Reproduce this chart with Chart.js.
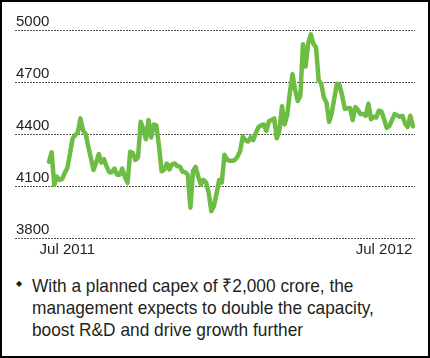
<!DOCTYPE html>
<html><head><meta charset="utf-8">
<script src="https://cdn.jsdelivr.net/npm/chart.js@4"></script>
<style>
html,body{margin:0;padding:0;background:#fff;}
#wrap{position:relative;width:430px;height:358px;overflow:hidden;background:#fff;}
#frame{position:absolute;left:0;top:0;width:430px;height:358px;box-sizing:border-box;border:2px solid #000;pointer-events:none;}
#cv{position:absolute;left:0;top:0;width:430px;height:265px;}
#note{position:absolute;left:32px;top:275px;font-family:'Liberation Sans',Arial,sans-serif;font-size:19px;line-height:22px;color:#231f20;transform:scaleX(0.91);transform-origin:0 0;white-space:nowrap;}
#bullet{position:absolute;left:16px;top:278px;font-family:'DejaVu Sans',sans-serif;font-size:8px;line-height:12px;color:#231f20;}
</style></head>
<body>
<div id="wrap">
<canvas id="cv" width="430" height="265"></canvas>
<div id="bullet">◆</div>
<div id="note">With a planned capex of ₹2,000 crore, the<br>management expects to double the capacity,<br>boost R&amp;D and drive growth further</div>
<div id="frame"></div>
</div>
<script>
// Share price, roughly every 3 days from mid-June 2011 to early Aug 2012
const values = [
4240,4295,4106,4154,4135,4140,4175,4205,4285,4375,
4394,4410,4490,4420,4400,4327,4260,4192,4235,4285,
4235,4255,4212,4180,4180,4200,4165,4165,4200,4150,
4118,4298,4290,4250,4265,4470,4430,4370,4480,4380,
4455,4450,4330,4185,4195,4230,4195,4225,4230,4215,
4212,4182,4180,4165,3975,4185,4210,4154,4110,4135,
4120,4060,3955,3985,4058,4135,4120,4280,4252,4245,
4245,4250,4270,4300,4385,4365,4356,4380,4365,4405,
4440,4450,4455,4418,4473,4481,4490,4375,4420,4560,
4455,4510,4640,4745,4655,4590,4620,4918,4790,4923,
4975,4920,4900,4710,4690,4610,4580,4470,4520,4610,
4690,4680,4620,4545,4548,4550,4480,4555,4540,4515,
4515,4505,4575,4485,4500,4495,4535,4530,4485,4435,
4445,4480,4515,4508,4500,4505,4460,4440,4505,4445
];
const yTicks = [3800, 4100, 4400, 4700, 5000];
const tickPositions = [7, 128];
const tickLabels = ['Jul 2011', 'Jul 2012'];

const tickFont = {family: "'Liberation Sans Narrow','Liberation Sans',Arial,sans-serif", size: 15};
const textColor = '#231f20';

new Chart(document.getElementById('cv').getContext('2d'), {
  type: 'line',
  data: {
    datasets: [{
      data: values.map((v, i) => ({x: i, y: v})),
      borderColor: '#6dbd45',
      borderWidth: 4.5,
      pointRadius: 0,
      tension: 0,
      fill: false,
      borderJoinStyle: 'round',
      borderCapStyle: 'round'
    }]
  },
  options: {
    responsive: false,
    animation: false,
    devicePixelRatio: 1,
    layout: {padding: {left: 15, right: 15, top: 30, bottom: 0}},
    plugins: {legend: {display: false}, tooltip: {enabled: false}},
    scales: {
      x: {
        type: 'linear',
        min: -13,
        max: 139.8,
        afterBuildTicks: s => { s.ticks = tickPositions.map(v => ({value: v})); },
        afterFit: s => { s.height = 27; },
        grid: {display: false, drawTicks: false},
        border: {display: false},
        ticks: {
          autoSkip: false, maxRotation: 0, padding: 3,
          font: tickFont, color: textColor,
          callback: v => { const k = tickPositions.indexOf(v); return k >= 0 ? tickLabels[k] : ''; }
        }
      },
      y: {
        min: 3800,
        max: 5000,
        afterBuildTicks: s => { s.ticks = yTicks.map(v => ({value: v})); },
        afterFit: s => { s.width = 0; },
        grid: {color: '#555', lineWidth: 1, drawTicks: false},
        border: {display: false, dash: [2, 1]},
        ticks: {
          mirror: true, padding: 1, labelOffset: -8,
          font: tickFont, color: textColor,
          callback: v => String(v)
        }
      }
    }
  }
});
</script>
</body></html>
